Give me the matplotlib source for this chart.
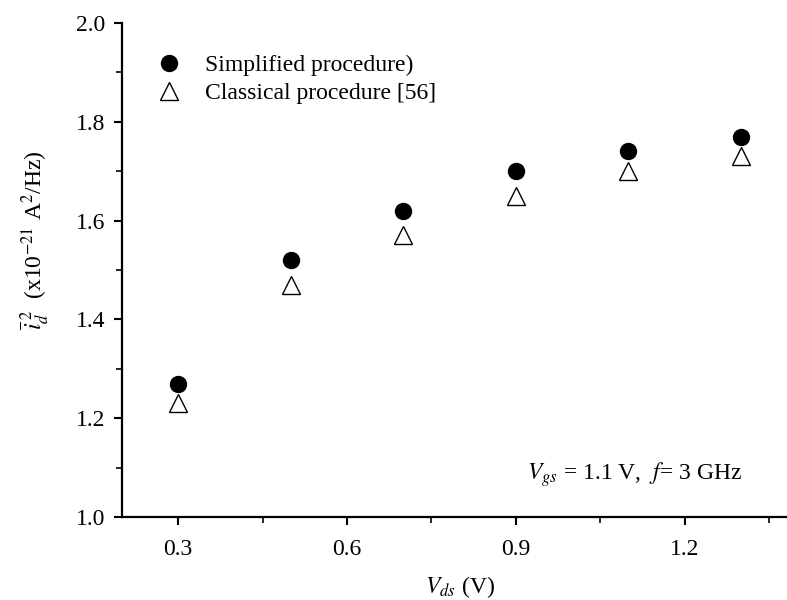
import matplotlib
matplotlib.use("Agg")
import matplotlib.pyplot as plt
from matplotlib.ticker import MultipleLocator

plt.rcParams['font.family'] = ['Liberation Serif', 'DejaVu Serif']
plt.rcParams['mathtext.fontset'] = 'stix'

vds = [0.3, 0.5, 0.7, 0.9, 1.1, 1.3]
simplified = [1.27, 1.52, 1.62, 1.70, 1.74, 1.77]
classical = [1.23, 1.47, 1.57, 1.65, 1.70, 1.73]
xticks = [0.3, 0.6, 0.9, 1.2]
xticklabels = ['0.3', '0.6', '0.9', '1.2']

fig = plt.figure(figsize=(7.87, 6.0), dpi=100)
ax = fig.add_axes([122/787, 83/600, (797-122)/787, (517-23)/600])

ax.plot(vds, simplified, 'o', color='black', markersize=11.5, linestyle='none',
        label='Simplified procedure)')
ax.plot(vds, classical, '^', markerfacecolor='white', markeredgecolor='black',
        markeredgewidth=1.0, markersize=13, linestyle='none',
        label='Classical procedure [56]')

ax.set_xlim(0.2, 1.4)
ax.set_ylim(1.0, 2.0)
ax.set_xticks(xticks)
ax.set_xticklabels(xticklabels)
ax.xaxis.set_minor_locator(MultipleLocator(0.15))
ax.yaxis.set_major_locator(MultipleLocator(0.2))
ax.yaxis.set_minor_locator(MultipleLocator(0.1))

for s in ['top', 'right']:
    ax.spines[s].set_visible(False)
for s in ['left', 'bottom']:
    ax.spines[s].set_linewidth(1.6)

ax.tick_params(which='major', direction='out', length=6, width=1.5, labelsize=17)
ax.tick_params(axis='x', which='major', pad=10)
ax.tick_params(axis='y', which='major', pad=6)
ax.tick_params(which='minor', direction='out', length=4, width=1.2)

ax.set_xlabel(r'$V_{ds}$ (V)', fontsize=17, labelpad=10)
ax.set_ylabel(r'$\overline{i}_{d}^{\;2}$  (x10$^{-21}$ A$^{2}$/Hz)', fontsize=17)
ax.yaxis.set_label_coords(-0.105, 0.56)

ax.text(742/787, 125/600, r'$V_{gs}$ = 1.1 V,  $f$= 3 GHz', transform=fig.transFigure,
        fontsize=17, ha='right', va='center')

leg = ax.legend(loc='upper left', bbox_to_anchor=(0.035, 0.955), frameon=False,
                fontsize=17, handletextpad=0.9, labelspacing=0.28, borderaxespad=0.0,
                handlelength=1.2)

fig.savefig('out.png', dpi=100)
